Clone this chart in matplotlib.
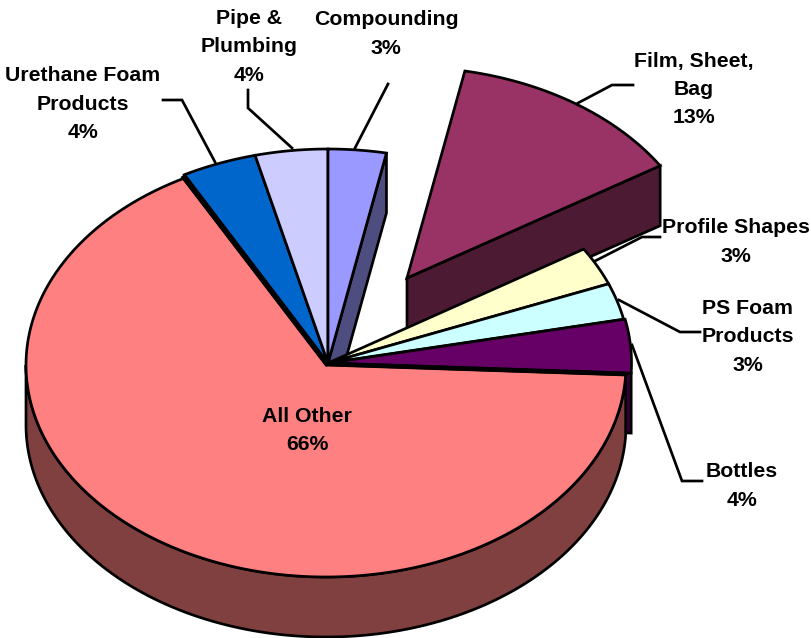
import numpy as np
import matplotlib
matplotlib.use("Agg")
import matplotlib.pyplot as plt
from matplotlib.patches import Polygon

# shares, clockwise from 12 o'clock
categories = ["Compounding", "Film, Sheet,\nBag", "Profile Shapes", "PS Foam\nProducts",
              "Bottles", "All Other", "Urethane Foam\nProducts", "Pipe &\nPlumbing"]
values = [3.1, 12.97, 2.9, 2.75, 4.03, 66.37, 4.0, 3.88]

top_colors = ["#9999FF", "#993366", "#FFFFCC", "#CCFFFF", "#660066", "#FF8080", "#0066CC", "#CCCCFF"]
side_colors = ["#4D4D80", "#4D1A33", "#808066", "#668080", "#330033", "#804040", "#003366", "#666680"]

# pixel layout
cx, cy = 328, 363
rx, ry = 302, 214
depth = 60
offsets = [(0, 0), (79, -85), (0, 0), (0, 0), (1.5, 0), (-2, 2), (0, 0), (0, 0)]
shrink = [0, 3, 0, 0, 0, 2, 0, 0]

label_pos = [(386, 34), (694, 89.5), (736, 242), (748, 337), (742, 486), (307, 430.5), (83, 104), (249, 47)]
leaders = [
    [(355, 148), (388, 84)],
    [(578, 103), (612, 85), (633, 85)],
    [(595, 261), (642, 237), (660, 237)],
    [(619, 300), (680, 332), (700, 332)],
    [(632, 345), (682, 481), (702, 481)],
    None,
    [(215, 162), (182, 100), (163, 100)],
    [(292, 148), (248, 108), (248, 90)],
]

LW = 1.95

fig = plt.figure(figsize=(8.12, 6.38), dpi=100)
ax = fig.add_axes([0, 0, 1, 1])
ax.set_xlim(0, 812)
ax.set_ylim(638, 0)
ax.axis("off")

edges = np.cumsum([0] + values) / sum(values) * 360


def arc(i, t0, t1, dy=0):
    t = np.radians(np.linspace(t0, t1, 200))
    dx, oy = offsets[i]
    x = cx + dx + (rx - shrink[i]) * np.sin(t)
    y = cy + oy + dy - (ry - shrink[i]) * np.cos(t)
    return np.column_stack([x, y])


def centre(i, dy=0):
    return [cx + offsets[i][0], cy + offsets[i][1] + dy]


def add(pts, color, z):
    ax.add_patch(Polygon(pts, closed=True, facecolor=color, edgecolor="black",
                         linewidth=LW, joinstyle="miter", zorder=z))


def top(i, z):
    add(np.vstack([[centre(i)], arc(i, edges[i], edges[i + 1])]), top_colors[i], z)


def end_face(i, z):
    e = arc(i, edges[i + 1], edges[i + 1])[0]
    add([centre(i), e, [e[0], e[1] + depth], centre(i, depth)], side_colors[i], z)


for pts in leaders:
    if pts:
        xs, ys = zip(*pts)
        ax.plot(xs, ys, color="black", lw=LW, zorder=1, solid_joinstyle="miter")

end_face(0, 2)
top(6, 3)
top(7, 3)
top(0, 3)

end_face(1, 4)
top(1, 5)

end_face(4, 6)

# outer wall of the big slice, only the part that faces the viewer
a = arc(5, edges[5], 270)
b = arc(5, edges[5], 270, depth)
add(np.vstack([a, b[::-1]]), side_colors[5], 7)
top(5, 8)

top(2, 9)
top(3, 9)
top(4, 9)

# the slightly pulled big slice leaves a dark seam against its neighbours
for t in (edges[5], edges[6]):
    e = arc(5, t, t)[0]
    ax.plot([cx - 1, e[0]], [cy + 1, e[1] - 1], color="black", lw=3, zorder=9)

for name, v, (lx, ly) in zip(categories, values, label_pos):
    ax.text(lx, ly, f"{name}\n{round(v)}%", ha="center", va="center", fontsize=15.3,
            fontweight="bold", family="Liberation Sans", linespacing=1.62, zorder=10)

fig.savefig("out.png", dpi=100)
